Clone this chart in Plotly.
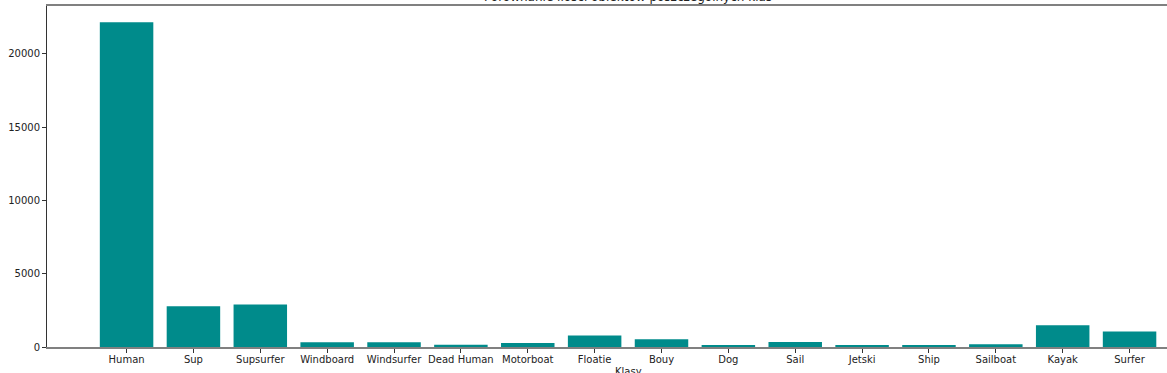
import plotly.graph_objects as go

categories = ["Human", "Sup", "Supsurfer", "Windboard", "Windsurfer", "Dead Human",
              "Motorboat", "Floatie", "Bouy", "Dog", "Sail", "Jetski", "Ship",
              "Sailboat", "Kayak", "Surfer"]
counts = [22140, 2785, 2900, 320, 320, 160, 275, 780, 525, 100, 340, 100, 100,
          185, 1485, 1050]
y_ticks = [0, 5000, 10000, 15000, 20000]

x_pos = list(range(len(categories)))

fig = go.Figure()
fig.add_trace(go.Bar(
    x=x_pos, y=counts, width=0.8,
    marker=dict(color="#008B8B", line=dict(width=0)),
))

font = "DejaVu Sans, sans-serif"
fig.update_layout(
    width=1167, height=373,
    margin=dict(l=47, r=0, t=6, b=26, pad=0),
    plot_bgcolor="white", paper_bgcolor="white",
    showlegend=False,
    font=dict(family=font, size=10, color="#222"),
    xaxis=dict(
        range=[-1.19, 15.56], tickmode="array", tickvals=x_pos, ticktext=categories,
        showgrid=False, zeroline=False,
        showline=True, linecolor="#808080", linewidth=1.5, mirror=True,
        ticks="outside", ticklen=4, tickcolor="#333", tickwidth=1,
        ticklabelstandoff=-2,
        tickfont=dict(family=font, size=10, color="#222"),
    ),
    yaxis=dict(
        range=[0, 23250], tickmode="array", tickvals=y_ticks,
        ticktext=[str(v) for v in y_ticks],
        showgrid=False, zeroline=False,
        showline=True, linecolor="#333", linewidth=1,
        ticks="outside", ticklen=4, tickcolor="#333", tickwidth=1,
        tickfont=dict(family=font, size=10, color="#222"),
    ),
    annotations=[
        dict(text="Porównanie ilości obiektów poszczególnych klas",
             xref="paper", yref="paper", x=(628 - 47) / 1120, y=1,
             xanchor="center", yanchor="bottom", showarrow=False,
             font=dict(family=font, size=12, color="#222")),
        dict(text="Klasy", xref="paper", yref="paper", x=(628 - 47) / 1120, y=0,
             xanchor="center", yanchor="top", yshift=-17, showarrow=False,
             font=dict(family=font, size=10, color="#222")),
        dict(text="Liczba obiektów", xref="paper", yref="paper", x=0, y=0.5,
             xanchor="center", yanchor="middle", xshift=-52, textangle=-90,
             showarrow=False, font=dict(family=font, size=10, color="#222")),
    ],
)

fig.write_html("out.html")
